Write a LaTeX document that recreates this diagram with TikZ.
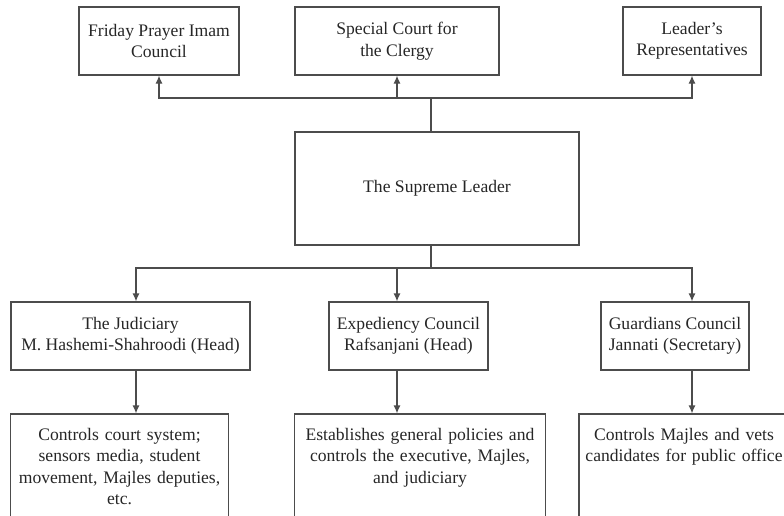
\documentclass[tikz,border=0pt]{standalone}
\usepackage{fontspec}
\setmainfont{Liberation Serif}
\usetikzlibrary{arrows.meta,positioning,fit}
\tikzset{
    caja/.style={rectangle,draw=black!70,line width=1.2pt,align=center,inner sep=0pt,text=black!85,minimum height=68pt},
    textoabajo/.style={align=center,inner xsep=0pt,inner ysep=14pt,text=black!85,anchor=north},
    marco/.style={rectangle,draw=black!70,line width=1.2pt,inner sep=0pt},
    linea/.style={draw=black!70,line width=1.2pt},
    punta/.style={linea,-{Latex[length=8pt,width=7pt]}},
}
\begin{document}
\begin{tikzpicture}[x=1pt,y=-1pt,font=\fontsize{17.6}{21.5}\selectfont]
\useasboundingbox (0,0) rectangle (784,515);
\clip (0,0) rectangle (784,515);

% fila de arriba
\node[caja,minimum width=160pt] (viernes)   at (159,41) {Friday Prayer Imam\\Council};
\node[caja,minimum width=204pt] (tribunal)  at (397,41) {Special Court for\\the Clergy};
\node[caja,minimum width=138pt] (represent) at (692,41) {Leader’s\\Representatives};

% lider
\node[caja,minimum width=284pt,minimum height=113pt] (lider) at (437,188.5) {The Supreme Leader};

% fila del medio
\node[caja,minimum width=239pt] (judicial)  at (130.5,336) {The Judiciary\\M. Hashemi-Shahroodi (Head)};
\node[caja,minimum width=159pt] (consejo)   at (408.5,336) {Expediency Council\\Rafsanjani (Head)};
\node[caja,minimum width=148pt] (guardian)  at (675,336)   {Guardians Council\\Jannati (Secretary)};

% fila de abajo
\node[textoabajo,text width=217pt] (t1) at (119.5,414) {Controls court system;\\sensors media, student\\movement, Majles deputies,\\etc.};
\coordinate (b1) at (119.5,540);
\node[marco,fit=(t1) (b1)] (marco1) {};

\node[textoabajo,text width=250pt] (t2) at (420,414) {Establishes general policies and\\controls the executive, Majles,\\and judiciary};
\coordinate (b2) at (420,540);
\node[marco,fit=(t2) (b2)] (marco2) {};

\node[textoabajo,text width=216pt] (t3) at (684,414) {Controls Majles and vets\\candidates for public office};
\coordinate (b3) at (687,540);
\node[marco,minimum width=216pt,fit=(b3) (b3 |- t3.north)] (marco3) {};

% conectores
\coordinate (arriba) at (431,98);
\coordinate (abajo)  at (431,268);
\coordinate (x1) at (136,0);
\coordinate (x2) at (397,0);
\coordinate (x3) at (692,0);

\draw[linea] (lider.north -| arriba) -- (arriba);
\draw[punta] (arriba) -| (viernes);
\draw[punta] (arriba) -| (tribunal);
\draw[punta] (arriba) -| (represent);

\draw[linea] (lider.south -| abajo) -- (abajo);
\draw[punta] (abajo) -| (judicial.north -| x1);
\draw[punta] (abajo) -| (consejo.north -| x2);
\draw[punta] (abajo) -| (guardian.north -| x3);

\draw[punta] (judicial.south -| x1) -- (marco1.north -| x1);
\draw[punta] (consejo.south -| x2)  -- (marco2.north -| x2);
\draw[punta] (guardian.south -| x3) -- (marco3.north -| x3);
\end{tikzpicture}
\end{document}
